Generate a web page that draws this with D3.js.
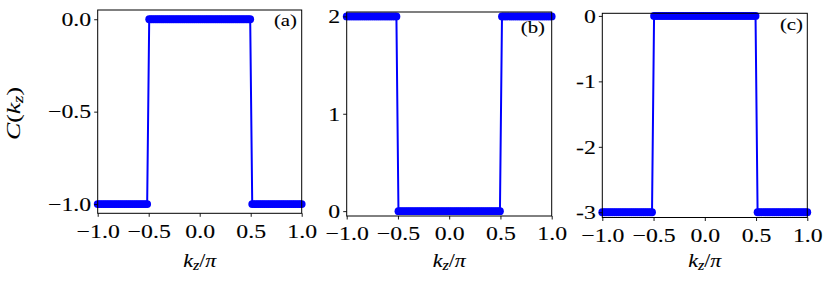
<!DOCTYPE html>
<html>
<head>
<meta charset="utf-8">
<script src="https://cdn.jsdelivr.net/npm/d3@7"></script>
<style>
  body { margin: 0; background: #fff; }
  svg text { font-family: "Liberation Serif", "Times New Roman", serif; fill: #000; stroke: #000; stroke-width: 0.1px; }
</style>
</head>
<body>
<svg id="fig" width="830" height="287"></svg>
<script>
// kz / pi sample grid (100 points from -1 to 1)
var kz = [
  -1.000, -0.980, -0.960, -0.939, -0.919, -0.899, -0.879, -0.859, -0.838, -0.818,
  -0.798, -0.778, -0.758, -0.737, -0.717, -0.697, -0.677, -0.657, -0.636, -0.616,
  -0.596, -0.576, -0.556, -0.535, -0.515, -0.495, -0.475, -0.455, -0.434, -0.414,
  -0.394, -0.374, -0.354, -0.333, -0.313, -0.293, -0.273, -0.253, -0.232, -0.212,
  -0.192, -0.172, -0.152, -0.131, -0.111, -0.091, -0.071, -0.051, -0.030, -0.010,
   0.010,  0.030,  0.051,  0.071,  0.091,  0.111,  0.131,  0.152,  0.172,  0.192,
   0.212,  0.232,  0.253,  0.273,  0.293,  0.313,  0.333,  0.354,  0.374,  0.394,
   0.414,  0.434,  0.455,  0.475,  0.495,  0.515,  0.535,  0.556,  0.576,  0.596,
   0.616,  0.636,  0.657,  0.677,  0.697,  0.717,  0.737,  0.758,  0.778,  0.798,
   0.818,  0.838,  0.859,  0.879,  0.899,  0.919,  0.939,  0.960,  0.980,  1.000
];

// Chern number C(kz) for each panel
var chernA = [
  -1, -1, -1, -1, -1, -1, -1, -1, -1, -1, -1, -1, -1, -1, -1, -1, -1, -1, -1, -1, -1, -1, -1, -1, -1,
   0,  0,  0,  0,  0,  0,  0,  0,  0,  0,  0,  0,  0,  0,  0,  0,  0,  0,  0,  0,  0,  0,  0,  0,  0,
   0,  0,  0,  0,  0,  0,  0,  0,  0,  0,  0,  0,  0,  0,  0,  0,  0,  0,  0,  0,  0,  0,  0,  0,  0,
  -1, -1, -1, -1, -1, -1, -1, -1, -1, -1, -1, -1, -1, -1, -1, -1, -1, -1, -1, -1, -1, -1, -1, -1, -1
];
var chernB = [
   2,  2,  2,  2,  2,  2,  2,  2,  2,  2,  2,  2,  2,  2,  2,  2,  2,  2,  2,  2,  2,  2,  2,  2,  2,
   0,  0,  0,  0,  0,  0,  0,  0,  0,  0,  0,  0,  0,  0,  0,  0,  0,  0,  0,  0,  0,  0,  0,  0,  0,
   0,  0,  0,  0,  0,  0,  0,  0,  0,  0,  0,  0,  0,  0,  0,  0,  0,  0,  0,  0,  0,  0,  0,  0,  0,
   2,  2,  2,  2,  2,  2,  2,  2,  2,  2,  2,  2,  2,  2,  2,  2,  2,  2,  2,  2,  2,  2,  2,  2,  2
];
var chernC = [
  -3, -3, -3, -3, -3, -3, -3, -3, -3, -3, -3, -3, -3, -3, -3, -3, -3, -3, -3, -3, -3, -3, -3, -3, -3,
   0,  0,  0,  0,  0,  0,  0,  0,  0,  0,  0,  0,  0,  0,  0,  0,  0,  0,  0,  0,  0,  0,  0,  0,  0,
   0,  0,  0,  0,  0,  0,  0,  0,  0,  0,  0,  0,  0,  0,  0,  0,  0,  0,  0,  0,  0,  0,  0,  0,  0,
  -3, -3, -3, -3, -3, -3, -3, -3, -3, -3, -3, -3, -3, -3, -3, -3, -3, -3, -3, -3, -3, -3, -3, -3, -3
];

var xTicks = [-1, -0.5, 0, 0.5, 1];
var yTicksA = [-1, -0.5, 0];
var yTicksB = [0, 1, 2];
var yTicksC = [-3, -2, -1, 0];
var panelLabels = ["(a)", "(b)", "(c)"];

var blue = "#0000ff";
var stretch = 1.22;   // glyphs in the original are wider than Liberation Serif
var tickFont = 19.5;
var minus = "\u2212\u2009";

var panels = [
  { values: chernA, ticks: yTicksA, ydom: [-1.05, 0.05], left: 97.7, right: 301.7, top: 10, bottom: 213.3,
    fmt: d => d3.format(".1f")(d).replace("-", minus), label: panelLabels[0], lx: 297, ly: 26 },
  { values: chernB, ticks: yTicksB, ydom: [-0.05, 2.045], left: 346.7, right: 551.7, top: 12, bottom: 216,
    fmt: d => String(d), label: panelLabels[1], lx: 545, ly: 33 },
  { values: chernC, ticks: yTicksC, ydom: [-3.08, 0.04], left: 602.3, right: 807.3, top: 13.3, bottom: 217.5,
    fmt: d => String(d), label: panelLabels[2], lx: 803, ly: 30 }
];

var svg = d3.select("#fig");

function widen(sel, k) {
  sel.each(function () {
    var w = this.getComputedTextLength();
    d3.select(this).attr("textLength", w * (k || stretch)).attr("lengthAdjust", "spacingAndGlyphs");
  });
}

panels.forEach(function (p) {
  var x = d3.scaleLinear().domain([-1, 1]).range([p.left, p.right]);
  var y = d3.scaleLinear().domain(p.ydom).range([p.bottom, p.top]);
  var g = svg.append("g");

  // panel tag drawn first so the markers sit above it
  var tag = g.append("text")
    .attr("x", p.lx).attr("y", p.ly)
    .attr("text-anchor", "end")
    .attr("font-size", 17)
    .text(p.label);
  widen(tag);

  var pts = kz.map((k, i) => [k, p.values[i]]);

  g.append("path")
    .datum(pts)
    .attr("fill", "none")
    .attr("stroke", blue)
    .attr("stroke-width", 2)
    .attr("d", d3.line().x(d => x(d[0])).y(d => y(d[1])));

  g.selectAll("circle")
    .data(pts)
    .enter()
    .append("circle")
    .attr("cx", d => x(d[0]))
    .attr("cy", d => y(d[1]))
    .attr("r", 3.9)
    .attr("fill", blue);

  // frame
  g.append("rect")
    .attr("x", p.left).attr("y", p.top)
    .attr("width", p.right - p.left).attr("height", p.bottom - p.top)
    .attr("fill", "none").attr("stroke", "#000").attr("stroke-width", 1);

  var xAxis = g.append("g")
    .attr("transform", "translate(0," + p.bottom + ")")
    .call(d3.axisBottom(x).tickValues(xTicks).tickSize(3.5).tickPadding(7)
      .tickFormat(d => d3.format(".1f")(d).replace("-", minus)));
  xAxis.select(".domain").remove();
  xAxis.selectAll("line").attr("stroke-width", 0.9);
  xAxis.selectAll("text").attr("font-size", tickFont).attr("font-family", null).call(widen);

  var yAxis = g.append("g")
    .attr("transform", "translate(" + p.left + ",0)")
    .call(d3.axisLeft(y).tickValues(p.ticks).tickSize(3.5).tickPadding(3).tickFormat(p.fmt));
  yAxis.select(".domain").remove();
  yAxis.selectAll("line").attr("stroke-width", 0.9);
  yAxis.selectAll("text").attr("font-size", tickFont).attr("font-family", null).call(widen);

  // x label  k_z / pi
  var xl = g.append("text")
    .attr("x", (p.left + p.right) / 2).attr("y", 267)
    .attr("text-anchor", "middle")
    .attr("font-size", 19);
  xl.append("tspan").attr("font-style", "italic").text("k");
  xl.append("tspan").attr("font-style", "italic").attr("font-size", 14).attr("dy", 3).text("z");
  xl.append("tspan").attr("dy", -3).text("/");
  xl.append("tspan").attr("font-style", "italic").text("\u03c0");
  widen(xl, 1.15);
});

// y label C(k_z)
var yl = svg.append("text")
  .attr("transform", "translate(20,113.5) rotate(-90)")
  .attr("text-anchor", "middle")
  .attr("font-size", 19);
yl.append("tspan").attr("font-style", "italic").text("C");
yl.append("tspan").text("(");
yl.append("tspan").attr("font-style", "italic").text("k");
yl.append("tspan").attr("font-style", "italic").attr("font-size", 14).attr("dy", 3).text("z");
yl.append("tspan").attr("dy", -3).text(")");
yl.attr("textLength", 53).attr("lengthAdjust", "spacingAndGlyphs");
</script>
</body>
</html>
